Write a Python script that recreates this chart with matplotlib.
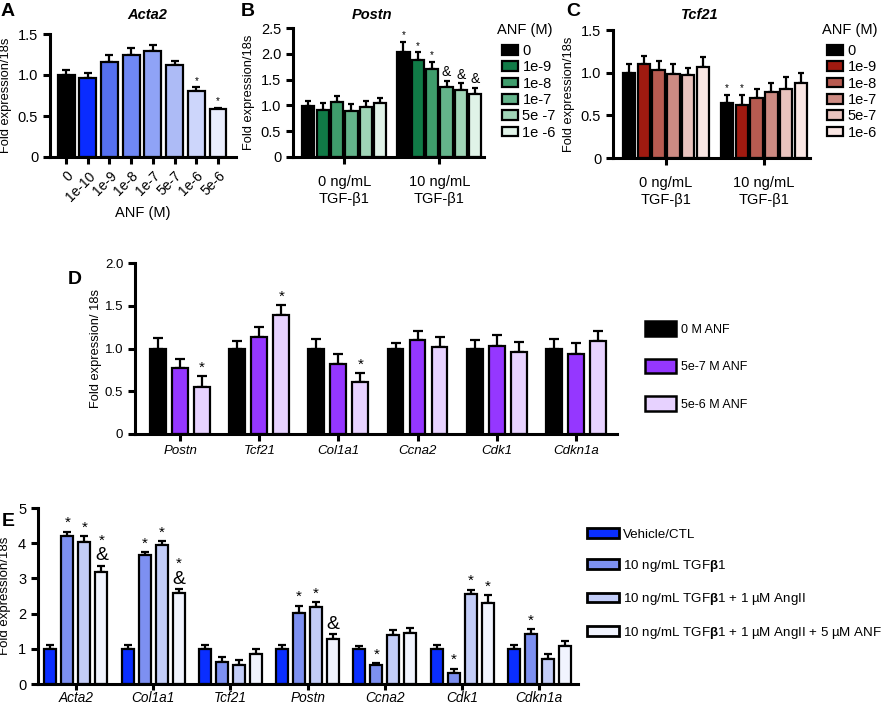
import numpy as np
import matplotlib
matplotlib.use("Agg")
import matplotlib.pyplot as plt
from matplotlib.patches import Patch

plt.rcParams["font.family"] = ["Liberation Sans", "DejaVu Sans"]
plt.rcParams["mathtext.fontset"] = "custom"
plt.rcParams["mathtext.rm"] = "Liberation Sans"
plt.rcParams["mathtext.it"] = "Liberation Sans:italic"
plt.rcParams["mathtext.bf"] = "Liberation Sans:bold"

# ---- panel A: Acta2 dose response ----
a_doses = ["0", "1e-10", "1e-9", "1e-8", "1e-7", "5e-7", "1e-6", "5e-6"]
a_mean = [1.00, 0.96, 1.16, 1.24, 1.29, 1.12, 0.81, 0.58]
a_err = [0.06, 0.07, 0.09, 0.09, 0.07, 0.05, 0.04, 0.02]
a_marks = ["", "", "", "", "", "", "*", "*"]
a_colors = ["#000000", "#0a2cff", "#5570f0", "#6f88f5", "#8fa3f6",
            "#adbbf6", "#cdd6fb", "#e9edfd"]

# ---- panels B / C: TGF-b1 x ANF ----
bc_groups = ["0 ng/mL\nTGF-\u03b21", "10 ng/mL\nTGF-\u03b21"]
b_doses = ["0", "1e-9", "1e-8", "1e-7", "5e -7", "1e -6"]
b_mean = [[0.99, 0.92, 1.07, 0.90, 0.97, 1.04],
          [2.03, 1.88, 1.70, 1.35, 1.29, 1.22]]
b_err = [[0.09, 0.12, 0.11, 0.13, 0.12, 0.10],
         [0.20, 0.15, 0.15, 0.13, 0.14, 0.12]]
b_marks = [["", "", "", "", "", ""],
           ["*", "*", "*", "&", "&", "&"]]
b_colors = ["#000000", "#107a46", "#3f9d6c", "#64b48b", "#a0d5b7", "#e0f3e8"]

c_doses = ["0", "1e-9", "1e-8", "1e-7", "5e-7", "1e-6"]
c_mean = [[1.00, 1.10, 1.03, 0.99, 0.97, 1.07],
          [0.65, 0.62, 0.70, 0.77, 0.81, 0.88]]
c_err = [[0.10, 0.10, 0.11, 0.11, 0.08, 0.11],
         [0.09, 0.12, 0.11, 0.11, 0.14, 0.12]]
c_marks = [["", "", "", "", "", ""],
           ["*", "*", "", "", "", ""]]
c_colors = ["#000000", "#a01a10", "#b85b51", "#cd8b83", "#e9c3be", "#f9e6e3"]

# ---- panel D ----
d_genes = ["Postn", "Tcf21", "Col1a1", "Ccna2", "Cdk1", "Cdkn1a"]
d_labels = ["0 M ANF", "5e-7 M ANF", "5e-6 M ANF"]
d_mean = [[1.00, 1.00, 1.00, 1.00, 1.00, 1.00],
          [0.77, 1.13, 0.82, 1.10, 1.03, 0.94],
          [0.55, 1.39, 0.61, 1.02, 0.96, 1.09]]
d_err = [[0.12, 0.09, 0.11, 0.07, 0.10, 0.11],
         [0.11, 0.12, 0.12, 0.11, 0.13, 0.13],
         [0.13, 0.12, 0.10, 0.12, 0.12, 0.12]]
d_marks = [["", "", "", "", "", ""],
           ["", "", "", "", "", ""],
           ["*", "*", "*", "", "", ""]]
d_colors = ["#000000", "#9537ff", "#e7d2ff"]

# ---- panel E ----
e_genes = ["Acta2", "Col1a1", "Tcf21", "Postn", "Ccna2", "Cdk1", "Cdkn1a"]
e_labels = ["Vehicle/CTL",
            "10 ng/mL TGF$\\mathbf{\\beta}$1",
            "10 ng/mL TGF$\\mathbf{\\beta}$1 + 1 \u00b5M AngII",
            "10 ng/mL TGF$\\mathbf{\\beta}$1 + 1 \u00b5M AngII + 5 \u00b5M ANF"]
e_mean = [[1.00, 1.00, 1.00, 1.00, 1.00, 1.00, 1.00],
          [4.20, 3.66, 0.63, 2.02, 0.53, 0.31, 1.41],
          [4.03, 3.94, 0.54, 2.18, 1.40, 2.55, 0.71],
          [3.18, 2.58, 0.86, 1.28, 1.45, 2.30, 1.07]]
e_err = [[0.10, 0.10, 0.11, 0.10, 0.09, 0.10, 0.10],
         [0.13, 0.09, 0.13, 0.21, 0.07, 0.13, 0.14],
         [0.18, 0.13, 0.13, 0.14, 0.12, 0.13, 0.14],
         [0.18, 0.12, 0.14, 0.14, 0.14, 0.22, 0.16]]
e_marks = [["", "", "", "", "", "", ""],
           ["*", "*", "", "*", "*", "*", "*"],
           ["*", "*", "", "*", "", "*", ""],
           ["*&", "*&", "", "&", "", "*", ""]]
e_colors = ["#0a2eff", "#7d90f1", "#c3cdf8", "#f1f4fe"]

W, H = 888, 706


def rect(l, r, t, b):
    return [l / W, 1 - b / H, (r - l) / W, (b - t) / H]


def style(ax, lw=2.2):
    for s in ("top", "right"):
        ax.spines[s].set_visible(False)
    for s in ("left", "bottom"):
        ax.spines[s].set_linewidth(lw)
    ax.tick_params(direction="out", width=lw, length=5, colors="black")


def mark(ax, x, top, s, star_fs, amp_fs):
    if not s:
        return
    off = 1.0
    if "&" in s:
        ax.annotate("&", (x, top), xytext=(0, off), textcoords="offset points",
                    ha="center", va="bottom", fontsize=amp_fs)
        off += amp_fs * 0.85
    if "*" in s:
        ax.annotate("*", (x, top), xytext=(0, off), textcoords="offset points",
                    ha="center", va="bottom", fontsize=star_fs)


def bars(ax, x, mean, err, color, width, marks, star_fs, amp_fs, cap=3):
    mean = np.asarray(mean)
    err = np.asarray(err)
    ax.errorbar(x, mean, yerr=[np.zeros_like(err), err], fmt="none",
                ecolor="black", elinewidth=1.6, capsize=cap, capthick=1.6,
                zorder=1)
    ax.bar(x, mean, width=width, color=color, edgecolor="black",
           linewidth=1.6, zorder=2)
    for xi, m, e, s in zip(np.atleast_1d(x), mean, err, marks):
        mark(ax, xi, m + e, s, star_fs, amp_fs)


fig = plt.figure(figsize=(W / 100, H / 100), dpi=100)

# ---------------- A ----------------
axA = fig.add_axes(rect(50, 236, 34, 157))
style(axA)
xa = np.arange(len(a_doses))
for i in range(len(a_doses)):
    bars(axA, [xa[i]], [a_mean[i]], [a_err[i]], a_colors[i], 0.78,
         [a_marks[i]], 7, 10)
axA.set_xlim(-0.74, 7.83)
axA.set_ylim(0, 1.5)
axA.set_yticks([0, 0.5, 1.0, 1.5])
axA.set_yticklabels(["0", "0.5", "1.0", "1.5"], fontsize=10.5)
axA.set_xticks(xa)
axA.set_xticklabels(a_doses, rotation=45, ha="right", rotation_mode="anchor",
                    fontsize=10)
axA.set_ylabel("Fold expression/18s", fontsize=9.3, labelpad=4)
fig.text(143 / W, 1 - 213 / H, "ANF (M)", ha="center", va="center", fontsize=10.5)
fig.text(147 / W, 1 - 15 / H, "Acta2", ha="center", va="center", fontsize=10.5,
         fontweight="bold", fontstyle="italic")


def group_panel(ax, means, errs, marks, colors, doses, legend_x):
    slot, width = 0.151, 0.127
    n = len(doses)
    offs = (np.arange(n) - (n - 1) / 2) * slot
    for i in range(n):
        xs = np.arange(len(means)) + offs[i]
        bars(ax, xs, [m[i] for m in means], [e[i] for e in errs],
             colors[i], width, [mk[i] for mk in marks], 7, 10, cap=2.5)
    ax.set_xlim(-0.54, 1.47)
    ax.set_xticks(range(len(bc_groups)))
    ax.set_xticklabels(bc_groups, fontsize=10.5, linespacing=1.3)
    ax.tick_params(axis="x", pad=8)
    ax.set_ylabel("Fold expression/18s", fontsize=9.3, labelpad=4)
    fig.text(legend_x / W, 1 - 30 / H, "ANF (M)", ha="left", va="center",
             fontsize=10.5)
    handles = [Patch(facecolor=c, edgecolor="black", linewidth=1.6, label=d)
               for c, d in zip(colors, doses)]
    fig.legend(handles=handles, loc="upper left", frameon=False,
               bbox_to_anchor=((legend_x + 5) / W, 1 - 44 / H),
               fontsize=10.5, handlelength=1.1, handleheight=0.65,
               handletextpad=0.3, labelspacing=0.16, borderpad=0,
               borderaxespad=0)


# ---------------- B ----------------
axB = fig.add_axes(rect(293, 484, 28, 157))
style(axB)
group_panel(axB, b_mean, b_err, b_marks, b_colors, b_doses, 497)
axB.set_ylim(0, 2.5)
axB.set_yticks([0, 0.5, 1.0, 1.5, 2.0, 2.5])
axB.set_yticklabels(["0", "0.5", "1.0", "1.5", "2.0", "2.5"], fontsize=10.5)
fig.text(372 / W, 1 - 15 / H, "Postn", ha="center", va="center", fontsize=10.5,
         fontweight="bold", fontstyle="italic")

# ---------------- C ----------------
axC = fig.add_axes(rect(613, 810, 30, 158))
style(axC)
group_panel(axC, c_mean, c_err, c_marks, c_colors, c_doses, 822)
axC.set_ylim(0, 1.5)
axC.set_yticks([0, 0.5, 1.0, 1.5])
axC.set_yticklabels(["0", "0.5", "1.0", "1.5"], fontsize=10.5)
fig.text(700 / W, 1 - 15 / H, "Tcf21", ha="center", va="center", fontsize=10.5,
         fontweight="bold", fontstyle="italic")

# ---------------- D ----------------
axD = fig.add_axes(rect(135, 617, 263, 434))
style(axD)
xd = np.arange(len(d_genes))
for k in range(len(d_labels)):
    bars(axD, xd + (k - 1) * 0.278, d_mean[k], d_err[k], d_colors[k], 0.2,
         d_marks[k], 11, 12, cap=3.5)
axD.set_xlim(-0.57, 5.52)
axD.set_ylim(0, 2.0)
axD.set_yticks([0, 0.5, 1.0, 1.5, 2.0])
axD.set_yticklabels(["0", "0.5", "1.0", "1.5", "2.0"], fontsize=9.5)
axD.set_xticks(xd)
axD.set_xticklabels(d_genes, fontsize=9.5, fontstyle="italic")
axD.tick_params(axis="x", pad=3)
axD.set_ylabel("Fold expression/ 18s", fontsize=9.3, labelpad=2)
hd = [Patch(facecolor=c, edgecolor="black", linewidth=1.8, label=l)
      for c, l in zip(d_colors, d_labels)]
fig.legend(handles=hd, loc="upper left", frameon=False,
           bbox_to_anchor=(645 / W, 1 - 321 / H), fontsize=9,
           handlelength=2.5, handleheight=1.45, handletextpad=0.4,
           labelspacing=1.82, borderpad=0, borderaxespad=0)

# ---------------- E ----------------
axE = fig.add_axes(rect(38, 578, 508, 684))
style(axE)
xe = np.arange(len(e_genes))
for k in range(len(e_labels)):
    bars(axE, xe + (k - 1.5) * 0.22, e_mean[k], e_err[k], e_colors[k], 0.155,
         e_marks[k], 11, 14, cap=3)
axE.set_xlim(-0.49, 6.5)
axE.set_ylim(0, 5)
axE.set_yticks(range(6))
axE.set_yticklabels([str(v) for v in range(6)], fontsize=10.5)
axE.set_xticks(xe)
axE.set_xticklabels(e_genes, fontsize=9.8, fontstyle="italic")
axE.tick_params(axis="x", pad=1, length=4)
axE.set_ylabel("Fold expression/18s", fontsize=9.5, labelpad=5)
he = [Patch(facecolor=c, edgecolor="black", linewidth=2.0, label=l)
      for c, l in zip(e_colors, e_labels)]
fig.legend(handles=he, loc="upper left", frameon=False,
           bbox_to_anchor=(587 / W, 1 - 528 / H), fontsize=9.6,
           handlelength=2.4, handleheight=0.75, handletextpad=0.3,
           labelspacing=1.3, borderpad=0, borderaxespad=0)

# panel letters
for letter, (px, py) in zip("ABCDE", [(8, 12), (248, 12), (573, 12),
                                       (75, 279), (8, 522)]):
    fig.text(px / W, 1 - py / H, letter, ha="center", va="center",
             fontsize=14, fontweight="bold")

fig.savefig("out.png", dpi=100)
